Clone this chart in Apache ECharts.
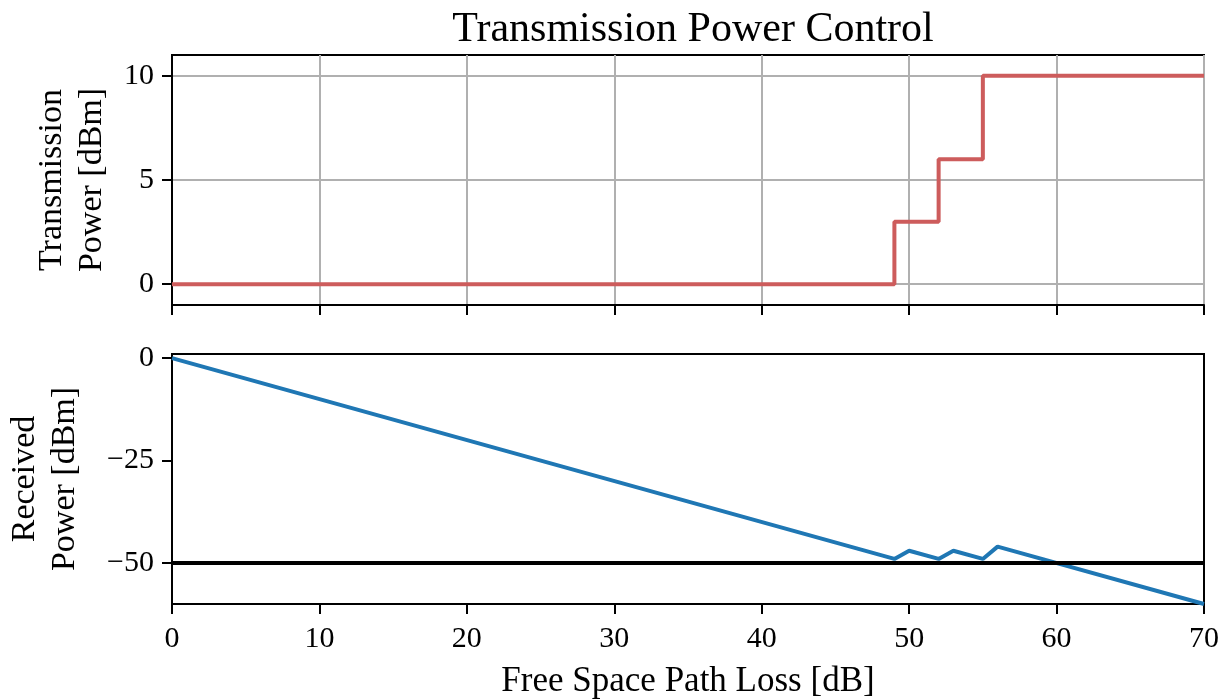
<!DOCTYPE html>
<html>
<head>
<meta charset="utf-8">
<title>Transmission Power Control</title>
<script src="https://cdn.jsdelivr.net/npm/echarts@6/dist/echarts.min.js"></script>
<style>
  html, body { margin: 0; padding: 0; background: #fff; }
  #chart { width: 1229px; height: 699px; }
</style>
</head>
<body>
<div id="chart"></div>
<script>
// Free space path loss samples [dB] where the curves change slope
const fspl = [0, 49, 50, 52, 53, 55, 56, 70];
// Transmit power chosen by the controller [dBm]
const txPower = [0, 0, 3, 3, 6, 6, 10, 10];
// Resulting received power [dBm]
const rxPower = [0, -49, -47, -49, -47, -49, -46, -60];
// Receiver sensitivity threshold [dBm]
const thresholdX = [0, 70];
const thresholdY = [-50, -50];

const xTicks = [0, 10, 20, 30, 40, 50, 60, 70];
const txTicks = [0, 5, 10];
const rxTicks = [-50, -25, 0];

const FONT = '"Liberation Serif", "DejaVu Serif", serif';
const pairs = (xs, ys) => xs.map((x, i) => [x, ys[i]]);
const minus = v => String(v).replace('-', '\u2212');

const axisLine = { show: true, onZero: false, lineStyle: { color: '#000', width: 2 } };
const tickStyle = { show: true, length: 10, inside: false, lineStyle: { color: '#000', width: 2 } };

const chart = echarts.init(document.getElementById('chart'), null, { renderer: 'canvas' });

chart.setOption({
  animation: false,
  backgroundColor: '#fff',
  title: {
    text: 'Transmission Power Control',
    left: 688, top: 4, textAlign: 'center',
    textStyle: { fontFamily: FONT, fontSize: 42, fontWeight: 'normal', color: '#000' }
  },
  grid: [
    { left: 172, right: 25, top: 55, height: 250, outerBoundsMode: 'none', containLabel: false,
      show: true, borderColor: '#000', borderWidth: 2, backgroundColor: 'transparent' },
    { left: 172, right: 25, top: 354, height: 250, outerBoundsMode: 'none', containLabel: false,
      show: true, borderColor: '#000', borderWidth: 2, backgroundColor: 'transparent' }
  ],
  xAxis: [
    {
      type: 'value', gridIndex: 0, min: 0, max: 70, interval: 10,
      axisLine: axisLine,
      axisTick: tickStyle,
      axisLabel: { show: false },
      splitLine: { show: true, lineStyle: { color: '#b0b0b0', width: 2 } }
    },
    {
      type: 'value', gridIndex: 1, min: 0, max: 70, interval: 10,
      axisLine: axisLine,
      axisTick: tickStyle,
      axisLabel: { show: true, margin: 20, color: '#000', fontFamily: FONT, fontSize: 30,
                   customValues: xTicks, formatter: minus },
      splitLine: { show: false },
      name: 'Free Space Path Loss [dB]', nameLocation: 'middle', nameGap: 60,
      nameTextStyle: { fontFamily: FONT, fontSize: 35, color: '#000' }
    }
  ],
  yAxis: [
    {
      type: 'value', gridIndex: 0, min: -1, max: 11,
      axisLine: axisLine,
      axisTick: Object.assign({}, tickStyle, { customValues: txTicks }),
      axisLabel: { show: true, margin: 18, color: '#000', fontFamily: FONT, fontSize: 30,
                   customValues: txTicks, formatter: minus },
      splitLine: { show: true, lineStyle: { color: '#b0b0b0', width: 2 } },
      name: 'Transmission\nPower [dBm]', nameLocation: 'middle', nameRotate: 90, nameGap: 60,
      nameTextStyle: { fontFamily: FONT, fontSize: 34, color: '#000', lineHeight: 40, align: 'center' }
    },
    {
      type: 'value', gridIndex: 1, min: -60, max: 1,
      axisLine: axisLine,
      axisTick: Object.assign({}, tickStyle, { customValues: rxTicks }),
      axisLabel: { show: true, margin: 18, color: '#000', fontFamily: FONT, fontSize: 30,
                   customValues: rxTicks, formatter: minus },
      splitLine: { show: false },
      name: 'Received\nPower [dBm]', nameLocation: 'middle', nameRotate: 90, nameGap: 87,
      nameTextStyle: { fontFamily: FONT, fontSize: 34, color: '#000', lineHeight: 40, align: 'center' }
    }
  ],
  series: [
    {
      name: 'Transmission Power', type: 'line', xAxisIndex: 0, yAxisIndex: 0,
      data: pairs(fspl, txPower), step: 'start', showSymbol: false, symbol: 'none',
      lineStyle: { color: '#cd5c5c', width: 4 }, clip: true
    },
    {
      name: 'Received Power', type: 'line', xAxisIndex: 1, yAxisIndex: 1,
      data: pairs(fspl, rxPower), showSymbol: false, symbol: 'none',
      lineStyle: { color: '#1f77b4', width: 4 }, clip: true
    },
    {
      name: 'Threshold', type: 'line', xAxisIndex: 1, yAxisIndex: 1,
      data: pairs(thresholdX, thresholdY), showSymbol: false, symbol: 'none',
      lineStyle: { color: '#000', width: 4 }, clip: true
    }
  ]
});
</script>
</body>
</html>
